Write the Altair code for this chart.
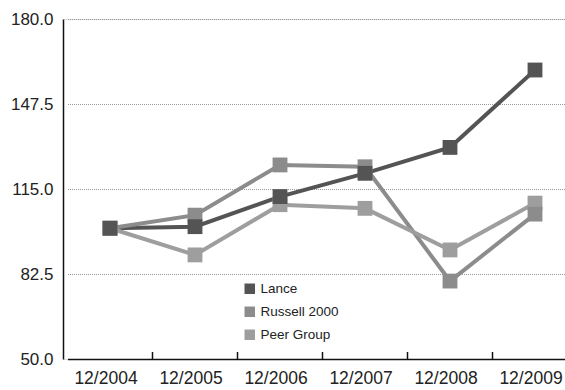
import altair as alt
import pandas as pd

years = ["12/2004", "12/2005", "12/2006", "12/2007", "12/2008", "12/2009"]
lance = [100.0, 100.6, 112.1, 121.0, 130.9, 160.5]
russell = [100.0, 105.0, 124.2, 123.5, 79.8, 105.4]
peer = [100.0, 89.8, 109.0, 107.6, 91.7, 109.6]
series = ["Lance", "Russell 2000", "Peer Group"]
colors = ["#545454", "#8c8c8c", "#9e9e9e"]
y_ticks = [50.0, 82.5, 115.0, 147.5, 180.0]

rows = []
for name, vals in [("Lance", lance), ("Russell 2000", russell), ("Peer Group", peer)]:
    for yr, v in zip(years, vals):
        rows.append({"year": yr, "value": v, "series": name})
df = pd.DataFrame(rows)
df["order"] = df["series"].map({"Peer Group": 0, "Russell 2000": 1, "Lance": 2})

font = "Liberation Sans"
xscale = alt.Scale(domain=years, range=[4.5, 514.5], paddingInner=0, paddingOuter=0)

x_enc = alt.X("year:N", scale=xscale, sort=years,
              axis=alt.Axis(title=None, labelAngle=0, ticks=False, domain=True,
                            domainColor="#111", domainWidth=1.5,
                            labelFontSize=17.5, labelColor="#222", labelFont=font,
                            labelPadding=10, labelOffset=-4, grid=False))
y_enc = alt.Y("value:Q", scale=alt.Scale(domain=[50, 180], nice=False, zero=False),
              axis=alt.Axis(title=None, values=y_ticks, format=".1f", ticks=False,
                            domainColor="#111", domainWidth=1.5,
                            labelFontSize=17, labelColor="#222", labelFont=font,
                            labelPadding=10, grid=True, gridColor="#999",
                            gridDash=[1, 1], gridWidth=1))
color_enc = alt.Color("series:N",
                      scale=alt.Scale(domain=series, range=colors),
                      legend=alt.Legend(title=None, orient="none", legendX=180, legendY=263,
                                        symbolType="square", symbolSize=110,
                                        symbolStrokeWidth=0, labelFontSize=13.5,
                                        labelFont=font, labelColor="#222",
                                        rowPadding=8, labelOffset=4))

base = alt.Chart(df)
lines = base.mark_line(strokeWidth=4).encode(
    x=x_enc, y=y_enc, color=color_enc, detail="series:N", order="year:N")
points = base.mark_point(shape="square", filled=True, size=220, opacity=1).encode(
    x=alt.X("year:N", scale=xscale, sort=years), y="value:Q",
    color=alt.Color("series:N", scale=alt.Scale(domain=series, range=colors), legend=None),
    order="order:Q")

tick_df = pd.DataFrame({"year": years[:-1]})
ticks = alt.Chart(tick_df).mark_rule(color="#111", strokeWidth=1.5).encode(
    x=alt.X("year:N", scale=xscale, sort=years, bandPosition=1),
    y=alt.value(340), y2=alt.value(333))

chart = alt.layer(lines, points, ticks).properties(
    width=502, height=340,
    padding={"left": 63, "top": 19, "right": 0, "bottom": 31},
    autosize=alt.AutoSizeParams(type="none"),
).configure_view(stroke=None).configure(background="white")

chart.save("out.html", embed_options={"renderer": "svg", "actions": False})
